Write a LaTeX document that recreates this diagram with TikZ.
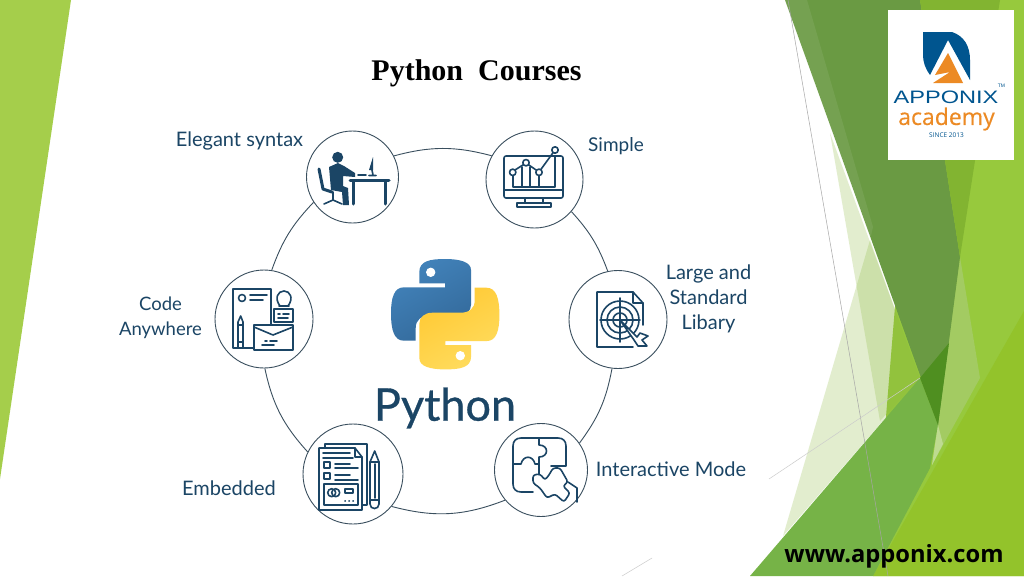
\documentclass[tikz,border=0pt]{standalone}
\usepackage{fontspec}
\setmainfont{Liberation Serif}
\newfontfamily\labelfont{Lato}
\newfontfamily\wordfont[FakeBold=0.7]{Lato}
\newfontfamily\webfont{Open Sans}
\newfontfamily\academyfont[FakeBold=0.4]{Open Sans}
\newfontfamily\logofont{Liberation Sans}
\usetikzlibrary{shadings}
\definecolor{navy}{HTML}{1B4565}
\definecolor{ringline}{HTML}{3A4F5E}
\definecolor{stripgreen}{HTML}{A5CE4B}
\definecolor{lightgreen}{HTML}{97C93D}
\definecolor{limegreen}{HTML}{93C32B}
\definecolor{topgreen}{HTML}{82B431}
\definecolor{bandgreen}{HTML}{A3CB62}
\definecolor{midgreen}{HTML}{76B347}
\definecolor{darkgreen}{HTML}{6A9A43}
\definecolor{deepgreen}{HTML}{4F8F20}
\definecolor{palegreen}{HTML}{8DBB3F}
\definecolor{logoblue}{HTML}{00558F}
\definecolor{logoorange}{HTML}{EC8A24}
\definecolor{snakeblue}{HTML}{4283BB}
\definecolor{snakedeep}{HTML}{33699A}
\definecolor{snakeyellow}{HTML}{FFDC5E}
\definecolor{snakegold}{HTML}{FFC933}
\tikzset{
  ringnode/.style={circle,draw=ringline,fill=white,line width=0.9pt,minimum size=#1,inner sep=0pt},
  ringlabel/.style={text=navy,font=\labelfont\fontsize{20}{25.3}\selectfont,align=center,inner sep=0pt},
  icon/.style={draw=navy,line width=1.6pt,line join=round,line cap=round},
  thin line/.style={draw=gray!70,line width=0.5pt}
}
\newcommand{\snakepath}{(445,259) .. controls (430,259) and (419.3,261) .. (419.3,272) -- (419.3,283.3) -- (445,283.3) -- (445,287.3) -- (404,287.3) .. controls (394,287.3) and (391,298) .. (391,313) .. controls (391,330) and (394,340.7) .. (404,340.7) -- (415.7,340.7) -- (415.7,328) .. controls (415.7,320) and (421,315.7) .. (430,315.7) -- (458,315.7) .. controls (466,315.7) and (471,311) .. (471,305) -- (471,270) .. controls (471,262) and (460,259) .. (445,259) -- cycle}
\begin{document}
\begin{tikzpicture}[x=1pt,y=-1pt]
  \useasboundingbox (0,0) rectangle (1024,576);
  \fill[white] (0,0) rectangle (1024,576);
  % left strip
  \fill[stripgreen] (0,0) -- (71,0) -- (0,479) -- cycle;
  % right side
  \fill[lightgreen] (920,0) -- (1024,0) -- (1024,576) -- (873,576) -- cycle;
  \fill[limegreen] (1024,311) -- (1024,576) -- (873,576) -- cycle;
  \fill[bandgreen] (960,257) -- (980,378) -- (932,465) -- cycle;
  \fill[palegreen,opacity=0.25] (870,240) -- (783,536) -- (920,378) -- cycle;
  \fill[palegreen,opacity=0.25] (830,133) -- (880,421) -- (920,378) -- cycle;
  \fill[midgreen] (920,378) -- (938,425) -- (930,468) -- (873,576) -- (750,576) -- cycle;
  \fill[darkgreen] (785,0) -- (920,0) -- (960,257) -- (938,425) -- cycle;
  \fill[white,opacity=0.08] (785,0) -- (807,0) -- (873,227) -- (870,240) -- cycle;
  \fill[deepgreen] (920,378) -- (949,343) -- (938,425) -- cycle;
  \fill[bandgreen!70!white] (938,425) -- (943,444) -- (932,465) -- cycle;
  \fill[topgreen] (920,0) -- (1000,0) -- (960,257) -- cycle;
  \draw[thin line] (788,0) -- (888,576);
  \draw[thin line,draw=gray!40] (769,479) -- (920,378);
  \draw[thin line,draw=gray!40] (622,576) -- (652,558);
  % logo
  \fill[white] (888,10) rectangle (1014,160);
  \fill[logoblue] (923,32) -- (952,32) .. controls (964,36) and (970,46) .. (970,60) -- (970,80) -- (948,40) -- (930,75) .. controls (925,68) and (923,62) .. (923,55) -- cycle;
  \fill[logoorange] (948,53) -- (963,83) -- (933,83) -- (950,72) -- (935,75) -- cycle;
  \node[text=logoblue,font=\logofont\fontsize{18}{20}\selectfont,inner sep=0pt] (logoname) at (946,97) {\scalebox{1.31}[1]{APPONIX}};
  \node[text=logoblue,font=\logofont\fontsize{5}{5}\selectfont,inner sep=0pt] (logotm) at (1001.5,86) {TM};
  \node[text=logoorange,font=\academyfont\fontsize{23}{24}\selectfont,inner sep=0pt] (logoacademy) at (946.5,119) {academy};
  \node[text=logoblue,font=\webfont\fontsize{6.5}{7}\selectfont,inner sep=0pt] (logosince) at (946.5,135.5) {SINCE 2013};
  % title and web address
  \node[font=\bfseries\fontsize{30}{31}\selectfont,inner sep=0pt] (title) at (476.5,73.5) {Python\ \ Courses};
  \node[font=\webfont\bfseries\fontsize{23.7}{24}\selectfont,inner sep=0pt] (web) at (894,556) {www.apponix.com};
  % ring
  \node[ringnode=92pt] (elegant) at (352.5,177) {};
  \node[ringnode=97pt] (simple) at (534.5,179.5) {};
  \node[ringnode=98pt] (large) at (618,319.5) {};
  \node[ringnode=93pt] (interactive) at (541,470) {};
  \node[ringnode=100pt] (embedded) at (353,474) {};
  \node[ringnode=98pt] (code) at (264,319) {};
  \foreach \a/\oa/\b/\ob/\bend in {elegant/27/simple/151/15,simple/-41/large/102/11,large/-97/interactive/35/13,interactive/-140/embedded/-40/18,embedded/154/code/-89/15,code/81/elegant/213/12}
    \draw[ringline,line width=0.9pt] (\a.\oa) to[bend left=\bend] (\b.\ob);
  % labels
  \node[ringlabel] (lblelegant) at (239.5,141) {Elegant syntax};
  \node[ringlabel,font=\labelfont\fontsize{19}{25.3}\selectfont] (lblsimple) at (616,146) {Simple};
  \node[ringlabel] (lbllarge) at (708.5,299) {Large and\\Standard\\Libary};
  \node[ringlabel] (lblinteractive) at (671,469) {Interactive Mode};
  \node[ringlabel] (lblembedded) at (229,488) {Embedded};
  \node[ringlabel,font=\labelfont\fontsize{18.5}{25.3}\selectfont] (lblcode) at (160.5,318) {Code\\Anywhere};
  % python logo
  \shade[left color=snakeblue,right color=snakedeep,shading angle=30] \snakepath;
  \begin{scope}[shift={(890.4,628.4)},xscale=-1,yscale=-1]
    \shade[left color=snakegold,right color=snakeyellow,shading angle=30] \snakepath;
  \end{scope}
  \fill[white] (430.7,272.3) circle [radius=4.7];
  \fill[white] (460.3,355.7) circle [radius=4.7];
  \node[text=navy,font=\wordfont\fontsize{45}{46}\selectfont,inner sep=0pt] (pythonword) at (445,408) {Python};
  % elegant icon
  \fill[navy] (337.7,157.3) circle [radius=5.5];
  \fill[navy] (329,167) -- (338,163) -- (344,166) -- (355,173) -- (355,177) -- (343,176) -- (343,186) -- (348,188) -- (349,205) -- (343,205) -- (342,192) -- (331,190) -- cycle;
  \draw[icon,line width=3pt] (319,169) -- (323,189) -- (332,192);
  \draw[icon] (333,192) -- (333,200) (324,204) -- (333,200) -- (342,204);
  \draw[icon,line width=3pt] (350,180) -- (389,180) (353,181) -- (353,204) (385,181) -- (385,204);
  \draw[icon] (358,175) -- (366,175) (369,175.5) -- (376,175.5) (372,170) -- (373,175);
  \fill[navy] (373,157) -- (369,170) -- (373,170) -- cycle;
  % simple icon
  \draw[icon,rounded corners=2pt] (504,156) rectangle (563,198);
  \draw[icon] (504,190) -- (563,190) (525,198) -- (525,203) (543,198) -- (543,203);
  \draw[icon] (517,203) rectangle (551,207);
  \draw[icon] (513,175) -- (513,187) -- (555,187) -- (555,156);
  \draw[icon] (522,167) -- (522,187) (530,167) -- (530,187) (539,176) -- (539,187);
  \draw[icon] (515,170) -- (526,163) -- (539,172) -- (555,150);
  \draw[icon,fill=white] (512.7,172.3) circle [radius=3.2] (526,162.7) circle [radius=3.2] (539,172.3) circle [radius=3.2] (555,150) circle [radius=3.2];
  % large icon
  \draw[icon] (643,325) -- (643,303) -- (633,292) -- (597,292) -- (597,347) -- (633,347);
  \draw[icon] (633,292) -- (633,303) -- (643,303);
  \draw[icon] (620,320) circle [radius=19] (620,320) circle [radius=13] (620,320) circle [radius=7];
  \draw[icon] (620,298) -- (620,342) (600,320) -- (640,320);
  \draw[icon,fill=white] (620,320) -- (637,337) -- (640,333) -- (648,336) -- (642,340) -- (647,346) -- (638,346) -- (634,340) -- cycle;
  % code icon
  \draw[icon] (254,348) -- (233,348) -- (233,289) -- (271,289) -- (271,325);
  \draw[icon] (242,298) circle [radius=3.5] (250,295) -- (267,295) (250,300) -- (263,300);
  \draw[icon,fill=white] (238,322) -- (240.7,316) -- (243,322) -- (243,348) -- (238,348) -- cycle;
  \draw[icon] (238,325) -- (243,325) (238,342) -- (243,342);
  \draw[icon] (280,306) .. controls (274,298) and (278,291) .. (284,291) .. controls (290,291) and (294,298) .. (288,306);
  \draw[icon] (279,306) -- (289,306);
  \draw[icon] (274,309) rectangle (293,322);
  \draw[icon] (278,314) -- (280,314) (283,314) -- (289,314) (278,318) -- (288,318);
  \draw[icon,fill=white] (254,325) rectangle (293,350);
  \draw[icon] (254,327) -- (273,335) -- (293,327);
  \draw[icon] (265,341) -- (267,341) (270,341) -- (277,341) (262,345) -- (274,345);
  % embedded icon
  \draw[icon] (325,448) -- (325,444) -- (367,444) -- (367,505) -- (362,505);
  \draw[icon] (362,510) -- (319,510) -- (319,448) -- (355,448) -- (362,457) -- cycle;
  \draw[icon] (355,448) -- (355,457) -- (362,457);
  \draw[icon] (323,453) -- (350,453) (323,458) -- (353,458);
  \draw[icon] (324,462) rectangle (330,468) (335,464) -- (350,464) (335,468) -- (358,468);
  \draw[icon] (324,473) rectangle (330,479) (335,475) -- (350,475) (335,480) -- (358,480);
  \draw[icon] (324,484) rectangle (358,505);
  \draw[icon] (331.7,492.7) circle [radius=4] (335.7,492.7) circle [radius=4];
  \draw[icon] (345,489) rectangle (353,493);
  \draw[icon] (345,500.7) -- (345.3,500.7) (349,500.7) -- (349.3,500.7) (353,500.7) -- (353.3,500.7);
  \draw[icon] (370,462) -- (374.7,451) -- (379,462) -- (379,504) .. controls (379,510) and (370,510) .. (370,504) -- cycle;
  \draw[icon] (370,462) -- (379,462) (374.7,464) -- (374.7,498) (370,500) -- (379,500);
  % interactive icon
  \draw[icon] (533,492) -- (521,492) .. controls (516,492) and (513,489) .. (513,484) -- (513,446) .. controls (513,441) and (516,438) .. (521,438) -- (558,438) .. controls (563,438) and (566,441) .. (566,446) -- (566,466) -- (551,466);
  \draw[icon] (539,438) -- (539,445) .. controls (549,445) and (549,457) .. (539,457) -- (539,474);
  \draw[icon] (513,464) -- (521,464) .. controls (523,455) and (533,455) .. (535,464) -- (539,464);
  \draw[icon,fill=white,rounded corners=2.5pt] (533,475) -- (540,474) -- (545,480) -- (549,475) -- (553,468) -- (560,468) -- (568,482) -- (563,486) -- (570,493) -- (564,502) -- (555,494) -- (547,498) -- (540,488) -- (533,483) -- cycle;
  \draw[icon] (568,482) -- (577,488) -- (577,502);
\end{tikzpicture}
\end{document}
